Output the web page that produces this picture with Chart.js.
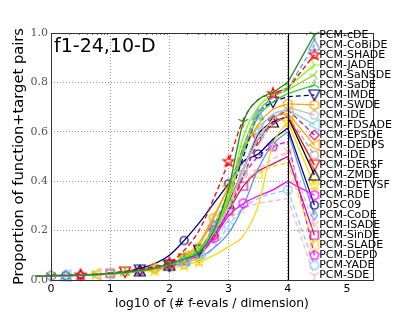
<!DOCTYPE html>
<html>
<head>
<meta charset="utf-8">
<script src="https://cdn.jsdelivr.net/npm/chart.js@4.4.1/dist/chart.umd.min.js"></script>
<style>
  html, body { margin: 0; padding: 0; background: #fff; }
  #ecdf { display: block; }
</style>
</head>
<body>
<canvas id="ecdf" width="415" height="312"></canvas>
<script>
// log10 of (# f-evals / dimension)
const evalsLog = [-0.86, -0.5, -0.25, 0, 0.25, 0.5, 0.75, 1, 1.25, 1.5, 1.75, 2, 2.25, 2.5, 2.75, 3, 3.25, 3.5, 3.75, 4];

// proportion of function+target pairs solved, per algorithm
const pcmCDE    = [0.012,0.014,0.015,0.017,0.018,0.020,0.022,0.026,0.031,0.038,0.048, 0.065,0.085,0.11,0.20,0.37,0.64,0.73,0.76,0.80];
const pcmCoBiDE = [0.011,0.013,0.015,0.016,0.018,0.019,0.021,0.025,0.030,0.036,0.046, 0.060,0.080,0.12,0.22,0.36,0.54,0.67,0.74,0.775];
const pcmSHADE  = [0.012,0.014,0.016,0.018,0.019,0.021,0.023,0.027,0.033,0.042,0.055, 0.070,0.120,0.20,0.33,0.48,0.65,0.73,0.755,0.775];
const pcmJADE   = [0.012,0.014,0.015,0.017,0.018,0.020,0.022,0.026,0.031,0.038,0.049, 0.065,0.090,0.13,0.21,0.34,0.58,0.70,0.75,0.78];
const pcmSaNSDE = [0.011,0.013,0.015,0.016,0.018,0.019,0.021,0.025,0.030,0.036,0.046, 0.060,0.085,0.12,0.20,0.32,0.54,0.68,0.74,0.77];
const pcmSaDE   = [0.012,0.014,0.015,0.017,0.018,0.020,0.022,0.026,0.031,0.038,0.048, 0.065,0.090,0.12,0.20,0.33,0.52,0.66,0.72,0.755];
const pcmIMDE   = [0.012,0.014,0.016,0.018,0.019,0.021,0.023,0.027,0.033,0.040,0.050, 0.060,0.085,0.12,0.20,0.33,0.50,0.67,0.72,0.742];
const pcmSWDE   = [0.012,0.014,0.015,0.017,0.018,0.020,0.022,0.026,0.031,0.039,0.050, 0.065,0.090,0.14,0.25,0.38,0.52,0.63,0.69,0.713];
const pcmIDE    = [0.011,0.013,0.015,0.016,0.018,0.019,0.021,0.025,0.030,0.036,0.046, 0.060,0.085,0.12,0.20,0.30,0.45,0.57,0.65,0.70];
const pcmFDSADE = [0.012,0.014,0.015,0.017,0.018,0.020,0.022,0.026,0.031,0.038,0.047, 0.060,0.080,0.11,0.19,0.30,0.45,0.60,0.67,0.69];
const pcmEPSDE  = [0.011,0.013,0.015,0.016,0.018,0.019,0.021,0.025,0.030,0.036,0.045, 0.055,0.080,0.11,0.18,0.28,0.42,0.56,0.65,0.69];
const pcmDEDPS  = [0.012,0.014,0.016,0.018,0.019,0.021,0.023,0.027,0.033,0.041,0.052, 0.065,0.095,0.15,0.26,0.38,0.53,0.62,0.66,0.675];
const pcmIDEsmall = [0.012,0.014,0.015,0.017,0.018,0.020,0.022,0.026,0.031,0.038,0.047, 0.060,0.080,0.11,0.19,0.30,0.43,0.55,0.63,0.665];
const pcmDERSF  = [0.012,0.014,0.015,0.017,0.018,0.020,0.022,0.026,0.032,0.039,0.048, 0.060,0.085,0.12,0.20,0.31,0.45,0.57,0.63,0.665];
const pcmZMDE   = [0.011,0.013,0.015,0.016,0.018,0.019,0.021,0.025,0.030,0.037,0.047, 0.060,0.085,0.12,0.20,0.31,0.45,0.59,0.64,0.662];
const pcmDETVSF = [0.011,0.013,0.014,0.016,0.017,0.019,0.021,0.024,0.028,0.033,0.039, 0.045,0.060,0.075,0.10,0.135,0.18,0.30,0.55,0.64];
const pcmRDE    = [0.012,0.014,0.015,0.017,0.018,0.020,0.022,0.026,0.031,0.038,0.047, 0.060,0.080,0.10,0.17,0.26,0.31,0.34,0.365,0.40];
const f05c09    = [0.012,0.014,0.015,0.017,0.018,0.020,0.023,0.028,0.035,0.046,0.066, 0.100,0.160,0.23,0.31,0.39,0.48,0.51,0.57,0.615];
const pcmCoDE   = [0.011,0.013,0.015,0.016,0.017,0.019,0.021,0.024,0.029,0.035,0.044, 0.055,0.070,0.09,0.13,0.19,0.30,0.45,0.55,0.60];
const pcmISADE  = [0.012,0.014,0.015,0.017,0.018,0.020,0.022,0.026,0.031,0.038,0.048, 0.060,0.080,0.11,0.18,0.29,0.39,0.45,0.49,0.52];
const pcmSinDE  = [0.012,0.014,0.016,0.018,0.019,0.021,0.023,0.027,0.032,0.040,0.049, 0.060,0.080,0.11,0.18,0.28,0.38,0.44,0.47,0.50];
const pcmSLADE  = [0.012,0.014,0.015,0.017,0.019,0.021,0.023,0.027,0.033,0.041,0.051, 0.065,0.090,0.13,0.20,0.30,0.38,0.43,0.46,0.475];
const pcmDEPD   = [0.012,0.014,0.015,0.017,0.018,0.020,0.022,0.026,0.031,0.038,0.048, 0.060,0.085,0.12,0.20,0.30,0.42,0.50,0.54,0.56];
const pcmYADE   = [0.011,0.013,0.015,0.016,0.017,0.019,0.021,0.024,0.029,0.035,0.044, 0.055,0.065,0.08,0.13,0.22,0.29,0.33,0.35,0.365];
const pcmSDE    = [0.012,0.014,0.015,0.017,0.018,0.020,0.022,0.025,0.030,0.036,0.045, 0.055,0.070,0.10,0.16,0.24,0.29,0.31,0.32,0.33];

const algNames = ['PCM-cDE', 'PCM-CoBiDE', 'PCM-SHADE', 'PCM-JADE', 'PCM-SaNSDE', 'PCM-SaDE', 'PCM-IMDE',
  'PCM-SWDE', 'PCM-IDE', 'PCM-FDSADE', 'PCM-EPSDE', 'PCM-DEDPS', 'PCM-iDE', 'PCM-DERSF', 'PCM-ZMDE',
  'PCM-DETVSF', 'PCM-RDE', 'F05C09', 'PCM-CoDE', 'PCM-ISADE', 'PCM-SinDE', 'PCM-SLADE', 'PCM-DEPD',
  'PCM-YADE', 'PCM-SDE'];
const algValues = [pcmCDE, pcmCoBiDE, pcmSHADE, pcmJADE, pcmSaNSDE, pcmSaDE, pcmIMDE, pcmSWDE, pcmIDE,
  pcmFDSADE, pcmEPSDE, pcmDEDPS, pcmIDEsmall, pcmDERSF, pcmZMDE, pcmDETVSF, pcmRDE, f05c09, pcmCoDE,
  pcmISADE, pcmSinDE, pcmSLADE, pcmDEPD, pcmYADE, pcmSDE];
// height where each label sits on the right
const labelHeights = [0.993, 0.952, 0.912, 0.871, 0.831, 0.790, 0.749, 0.709, 0.668, 0.628, 0.587, 0.546,
  0.506, 0.465, 0.425, 0.384, 0.343, 0.303, 0.262, 0.222, 0.181, 0.140, 0.100, 0.059, 0.019];

// styles
const colors = ['#228B22', '#6495ED', '#FF0000', '#7CFC00', '#9ACD32', '#32CD32', '#000080', '#FFA500',
  '#C0C0C0', '#87CEFA', '#C71585', '#FFA500', '#A9A9A9', '#FF0000', '#000000', '#FFD700', '#FF00FF',
  '#000080', '#6495ED', '#FFB6C1', '#C71585', '#FFD700', '#FF00FF', '#87CEFA', '#FFB6C1'];
const markers = ['1', '^', '*', '4', '3', '2', 'v', 'h', 'p', '<', 'D', '<', 'o', 'v', '^', '*', 'h', 'o',
  'd', 'x', 's', 's', 'p', '8', '1'];
const dashed = [false, true, true, false, false, false, true, false, false, false, true, false, true, false,
  false, false, false, false, false, true, false, true, true, true, true];

const budgetLog = 4;      // max evaluations line
const labelLineEnd = 4.45;
const labelTextX = 4.53;

// hollow marker drawn on its own little canvas
function makeMarker(shape, color) {
  const s = 16;
  const c = document.createElement('canvas');
  c.width = s; c.height = s;
  const g = c.getContext('2d');
  g.strokeStyle = color;
  g.lineWidth = 1.2;
  g.translate(s / 2, s / 2);
  g.beginPath();
  const poly = (n, r, rot) => {
    for (let k = 0; k < n; k++) {
      const a = rot + k * 2 * Math.PI / n;
      if (k === 0) g.moveTo(r * Math.cos(a), r * Math.sin(a));
      else g.lineTo(r * Math.cos(a), r * Math.sin(a));
    }
    g.closePath();
  };
  const spokes = angles => {
    angles.forEach(d => {
      const a = d * Math.PI / 180;
      g.moveTo(0, 0);
      g.lineTo(5.5 * Math.cos(a), 5.5 * Math.sin(a));
    });
  };
  switch (shape) {
    case 'o': g.arc(0, 0, 4, 0, 2 * Math.PI); break;
    case '8': poly(8, 4.5, Math.PI / 8); break;
    case 'h': poly(6, 4.8, -Math.PI / 2); break;
    case 'p': poly(5, 4.8, -Math.PI / 2); break;
    case 's': g.rect(-4, -4, 8, 8); break;
    case 'D': poly(4, 4.8, 0); break;
    case 'd':
      g.moveTo(0, -5); g.lineTo(3, 0); g.lineTo(0, 5); g.lineTo(-3, 0); g.closePath(); break;
    case '^': g.moveTo(0, -5.5); g.lineTo(5.5, 5); g.lineTo(-5.5, 5); g.closePath(); break;
    case 'v': g.moveTo(0, 5.5); g.lineTo(5.5, -5); g.lineTo(-5.5, -5); g.closePath(); break;
    case '<': g.moveTo(-5.5, 0); g.lineTo(5, -5.5); g.lineTo(5, 5.5); g.closePath(); break;
    case '*':
      for (let k = 0; k < 10; k++) {
        const a = -Math.PI / 2 + k * Math.PI / 5;
        const r = k % 2 ? 2.3 : 5.8;
        if (k === 0) g.moveTo(r * Math.cos(a), r * Math.sin(a));
        else g.lineTo(r * Math.cos(a), r * Math.sin(a));
      }
      g.closePath();
      break;
    case '1': spokes([90, 210, 330]); break;
    case '2': spokes([-90, 30, 150]); break;
    case '3': spokes([180, 60, -60]); break;
    case '4': spokes([0, 120, 240]); break;
    case 'x': g.moveTo(-4, -4); g.lineTo(4, 4); g.moveTo(4, -4); g.lineTo(-4, 4); break;
  }
  g.stroke();
  return c;
}

const datasets = [];
algNames.forEach((name, i) => {
  const pts = evalsLog.map((x, j) => ({ x: x, y: algValues[i][j] }));
  const marks = [3 + (i % 8), 11 + (i % 2), 13 + (i % 3), 16 + (i % 4)];
  const style = makeMarker(markers[i], colors[i]);
  const dash = dashed[i] ? [5, 3] : [];
  datasets.push({
    label: name,
    data: pts,
    borderColor: colors[i],
    borderWidth: 1.3,
    borderDash: dash,
    cubicInterpolationMode: 'monotone',
    pointStyle: style,
    pointRadius: ctx => marks.includes(ctx.dataIndex) ? 4 : 0,
    clip: false
  });
  // straight segment from the last value to the label
  const last = algValues[i][algValues[i].length - 1];
  datasets.push({
    label: name + ' label',
    data: [{ x: budgetLog, y: last }, { x: labelLineEnd, y: labelHeights[i] }],
    borderColor: colors[i],
    borderWidth: 1.3,
    borderDash: dash,
    tension: 0,
    pointStyle: style,
    pointRadius: [0, 4],
    clip: false
  });
});

const framePlugin = {
  id: 'frame',
  afterDatasetsDraw(chart) {
    const { ctx, chartArea: a, scales: { x, y } } = chart;
    ctx.save();
    // minor log ticks on top
    ctx.strokeStyle = '#777';
    ctx.lineWidth = 1;
    for (let k = 0; k <= 5; k++) {
      for (let m = 2; m <= 9; m++) {
        const v = k + Math.log10(m);
        if (v > x.max) continue;
        const px = Math.round(x.getPixelForValue(v)) + 0.5;
        ctx.beginPath();
        ctx.moveTo(px, a.top);
        ctx.lineTo(px, a.top + 2);
        ctx.stroke();
      }
    }
    // budget line
    const bx = Math.round(x.getPixelForValue(budgetLog)) + 0.5;
    ctx.strokeStyle = '#000';
    ctx.lineWidth = 1.2;
    ctx.beginPath();
    ctx.moveTo(bx, a.top);
    ctx.lineTo(bx, a.bottom);
    ctx.stroke();
    // axes box
    ctx.strokeStyle = '#333';
    ctx.lineWidth = 1;
    ctx.strokeRect(Math.round(a.left) + 0.5, Math.round(a.top) + 0.5,
      Math.round(a.right - a.left), Math.round(a.bottom - a.top));
    // title
    ctx.fillStyle = '#000';
    ctx.font = '19px "DejaVu Sans"';
    ctx.textBaseline = 'alphabetic';
    ctx.textAlign = 'left';
    ctx.fillText('f1-24,10-D', a.left + 3, a.top + 19);
    // algorithm labels
    ctx.font = '11px "DejaVu Sans"';
    ctx.textBaseline = 'middle';
    const tx = x.getPixelForValue(labelTextX);
    algNames.forEach((name, i) => {
      ctx.fillText(name, tx, y.getPixelForValue(labelHeights[i]));
    });
    ctx.restore();
  }
};

new Chart(document.getElementById('ecdf'), {
  type: 'line',
  data: { datasets: datasets },
  options: {
    responsive: false,
    animation: false,
    events: [],
    layout: { padding: { top: 33, right: 42, left: 0, bottom: 0 } },
    plugins: { legend: { display: false }, tooltip: { enabled: false } },
    scales: {
      x: {
        type: 'linear',
        min: 0,
        max: 5.44,
        afterFit: s => { s.height = 32; },
        ticks: {
          stepSize: 1,
          includeBounds: false,
          color: '#000',
          padding: 3,
          font: { family: 'DejaVu Sans', size: 11 },
          callback: v => Number.isInteger(v) ? String(v) : ''
        },
        grid: {
          drawTicks: false,
          color: c => (c.tick && c.tick.value > 0 && c.tick.value < 4.5) ? '#999' : 'rgba(0,0,0,0)'
        },
        border: { display: false, dash: [1, 2] },
        title: {
          display: true,
          text: 'log10 of (# f-evals / dimension)',
          color: '#000',
          font: { family: 'DejaVu Sans', size: 12.3 },
          padding: { top: 0, bottom: 1 }
        }
      },
      y: {
        min: 0,
        max: 1,
        afterFit: s => { s.width = 51; },
        ticks: {
          stepSize: 0.2,
          color: '#555',
          padding: 3,
          font: { family: 'DejaVu Serif', size: 11 },
          callback: v => v.toFixed(1)
        },
        grid: {
          drawTicks: false,
          color: c => (c.tick && c.tick.value > 0.1 && c.tick.value < 0.9) ? '#999' : 'rgba(0,0,0,0)'
        },
        border: { display: false, dash: [1, 2] },
        title: {
          display: true,
          text: 'Proportion of function+target pairs',
          color: '#000',
          font: { family: 'DejaVu Sans', size: 14.7 },
          padding: { top: 10, bottom: 0 }
        }
      }
    }
  },
  plugins: [framePlugin]
});
</script>
</body>
</html>
